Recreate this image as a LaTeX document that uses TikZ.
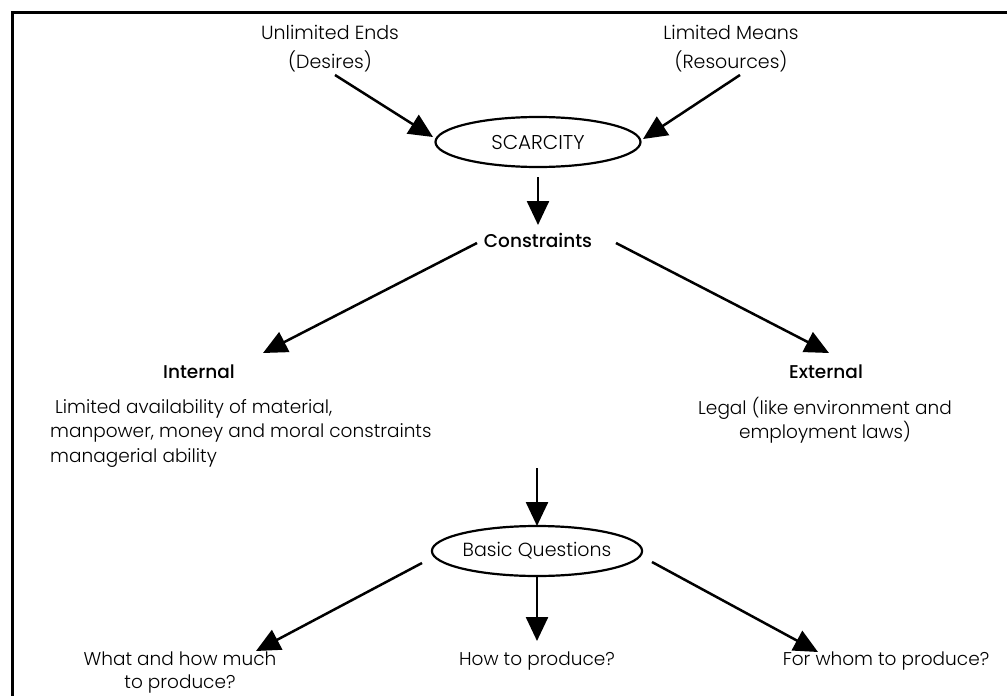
\documentclass[tikz,border=0pt]{standalone}
\usepackage{fontspec}
\setmainfont{Poppins}[UprightFont=* Light, BoldFont=* Medium]
\usetikzlibrary{arrows.meta,shapes.geometric}
\begin{document}
\begin{tikzpicture}[x=1pt,y=-1pt,
  font=\fontsize{18.5}{24.5}\selectfont,
  arr/.style={line width=2.5pt,-{Triangle[length=24pt,width=22pt]}},
  oval/.style={ellipse,draw,line width=2.2pt,minimum width=205pt,minimum height=50pt,inner sep=0pt},
  lbl/.style={align=center,inner sep=0pt},
  head/.style={inner sep=0pt,font=\fontsize{18.5}{24}\selectfont\bfseries}]
\path[use as bounding box] (0,0) rectangle (1007,696);
\draw[line width=3pt] (12,696) -- (12,12) -- (1007,12);

% top
\node[lbl,font=\fontsize{19}{29}\selectfont] (ue) at (330,49) {Unlimited Ends\\(Desires)};
\node[lbl,font=\fontsize{19}{29}\selectfont] (lm) at (731,49) {Limited Means\\(Resources)};
\node[oval,font=\fontsize{20}{24}\selectfont] (sc) at (538,142) {SCARCITY};
\node[head] (con) at (538,240) {Constraints};

% level 2
\node[head] (int) at (199,372) {Internal};
\node[inner sep=0pt,align=left,anchor=north west] (intd) at (50,399)
  {\hspace*{5pt}Limited availability of material,\\manpower, money and moral constraints\\managerial ability};
\node[head] (ext) at (826,372) {External};
\node[lbl] (extd) at (825,420) {Legal (like environment and\\employment laws)};

% basic questions
\node[oval,font=\fontsize{19}{24}\selectfont] (bq) at (537,551) {Basic Questions};
\node[lbl,font=\fontsize{18.5}{23}\selectfont] (q1) at (180,673) {What and how much\\to produce?};
\node[lbl] (q2) at (537,661) {How to produce?};
\node[lbl] (q3) at (886,661) {For whom to produce?};

% connector ends
\coordinate (a1s) at (335,75);  \coordinate (a1e) at (433,137);
\coordinate (a2s) at (740,75);  \coordinate (a2e) at (643,139);
\coordinate (a3s) at (538,177); \coordinate (a3e) at (538,225);
\coordinate (a4s) at (477,243); \coordinate (a4e) at (263,353);
\coordinate (a5s) at (616,243); \coordinate (a5e) at (829,353);
\coordinate (a6s) at (537,468); \coordinate (a6e) at (537,526);
\coordinate (a7s) at (422,563); \coordinate (a7e) at (256,651);
\coordinate (a8s) at (537,577); \coordinate (a8e) at (537,641);
\coordinate (a9s) at (652,562); \coordinate (a9e) at (818,652);

\draw[arr] (a1s) -- (a1e);
\draw[arr] (a2s) -- (a2e);
\draw[arr] (a3s) -- (a3e);
\draw[arr] (a4s) -- (a4e);
\draw[arr] (a5s) -- (a5e);
\draw[arr] (a6s) -- (a6e);
\draw[arr] (a7s) -- (a7e);
\draw[arr] (a8s) -- (a8e);
\draw[arr] (a9s) -- (a9e);
\end{tikzpicture}
\end{document}
